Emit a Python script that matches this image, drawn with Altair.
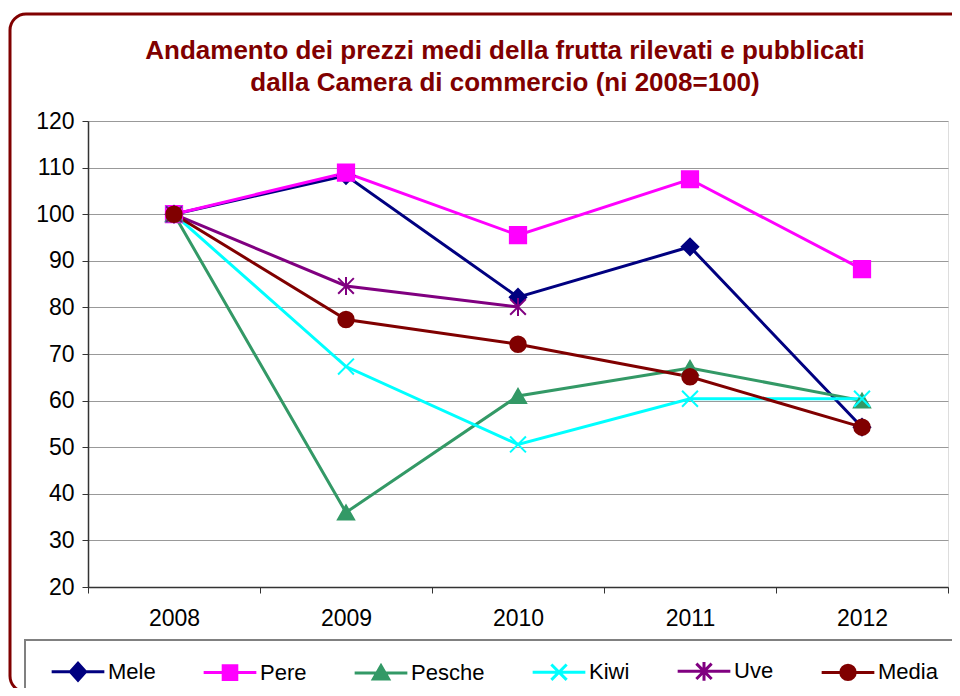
import altair as alt
import pandas as pd

years = ["2008", "2009", "2010", "2011", "2012"]
series = ["Mele", "Pere", "Pesche", "Kiwi", "Uve", "Media"]
colors = ["#000080", "#FF00FF", "#339966", "#00FFFF", "#800080", "#800000"]

mele = [100, 108.3, 82.2, 93.0, 54.3]
pere = [100, 108.9, 95.5, 107.5, 88.2]
pesche = [100, 36.0, 61.0, 67.0, 60.0]
kiwi = [100, 67.3, 50.6, 60.4, 60.4]
uve = [100, 84.6, 80.1, None, None]
media = [100, 77.4, 72.1, 65.1, 54.3]
values = [mele, pere, pesche, kiwi, uve, media]

title_lines = [
    "Andamento dei prezzi medi della frutta rilevati e pubblicati",
    "dalla Camera di commercio (ni 2008=100)",
]

# marker shapes (chart) and legend symbols (line + marker)
marker_paths = [
    "diamond",
    "square",
    "triangle-up",
    "M-1,-1L1,1M-1,1L1,-1",
    "M-1,-1L1,1M-1,1L1,-1M0,-1.15L0,1.15",
    "circle",
]
marker_sizes = [270, 240, 260, 340, 340, 280]
L = "M-3.1,0L3.1,0"
legend_paths = [
    L + "M0,-1L0.9,0L0,1L-0.9,0Z",
    L + "M-0.8,-0.8L0.8,-0.8L0.8,0.8L-0.8,0.8Z",
    L + "M0,-0.85L0.9,0.7L-0.9,0.7Z",
    L + "M-0.9,-0.9L0.9,0.9M-0.9,0.9L0.9,-0.9",
    L + "M-0.9,-0.9L0.9,0.9M-0.9,0.9L0.9,-0.9M0,-1.1L0,1.1",
    L + "M-0.85,0A0.85,0.85 0 1,0 0.85,0A0.85,0.85 0 1,0 -0.85,0Z",
]

rows = []
for s, vals in zip(series, values):
    for yr, v in zip(years, vals):
        if v is not None:
            rows.append({"series": s, "year": yr, "value": v})
df = pd.DataFrame(rows)

FONT = "Liberation Sans"

x_enc = alt.X(
    "year:N",
    scale=alt.Scale(type="band", domain=years, paddingInner=0, paddingOuter=0),
    axis=alt.Axis(
        title=None, labelAngle=0, grid=False, tickBand="extent", tickSize=6,
        tickColor="#333333", domainColor="#333333", domainWidth=1.5,
        labelFontSize=23, labelFont=FONT, labelColor="#000000", labelPadding=14,
    ),
)
y_enc = alt.Y(
    "value:Q",
    scale=alt.Scale(domain=[20, 120], nice=False, zero=False),
    axis=alt.Axis(
        title=None, values=list(range(20, 121, 10)), grid=True, gridColor="#999999",
        gridWidth=1.2, tickSize=6, tickColor="#333333", domainColor="#333333",
        domainWidth=1.5, labelFontSize=23, labelFont=FONT, labelColor="#000000",
        labelPadding=8,
    ),
)

deco_df = pd.DataFrame({"d": [0]})

outer_border = alt.Chart(deco_df).mark_rect(
    filled=False, color="#800000", strokeWidth=3, cornerRadius=16
).encode(
    x=alt.value(-78), x2=alt.value(880), y=alt.value(-107), y2=alt.value(571)
)

legend_box = alt.Chart(deco_df).mark_rect(
    filled=False, color="#808080", strokeWidth=2
).encode(
    x=alt.value(-63), x2=alt.value(1000), y=alt.value(519), y2=alt.value(700)
)

title_style = dict(font=FONT, fontSize=26, fontWeight="bold", color="#800000",
                   align="center", baseline="alphabetic")
title1 = alt.Chart(pd.DataFrame({"t": [title_lines[0]]})).mark_text(**title_style).encode(
    text="t:N", x=alt.value(417), y=alt.value(-62)
)
title2 = alt.Chart(pd.DataFrame({"t": [title_lines[1]]})).mark_text(**title_style).encode(
    text="t:N", x=alt.value(417), y=alt.value(-30)
)

lines = alt.Chart(df).mark_line(strokeWidth=3).encode(
    x=x_enc,
    y=y_enc,
    color=alt.Color("series:N", scale=alt.Scale(domain=series, range=colors), legend=None),
    detail="series:N",
)

points = alt.Chart(df).mark_point(filled=True, strokeWidth=2, opacity=1).encode(
    x=x_enc,
    y=y_enc,
    fill=alt.Fill("series:N", scale=alt.Scale(domain=series, range=colors), legend=None),
    stroke=alt.Stroke("series:N", scale=alt.Scale(domain=series, range=colors), legend=None),
    shape=alt.Shape("series:N", scale=alt.Scale(domain=series, range=marker_paths), legend=None),
    size=alt.Size("series:N", scale=alt.Scale(domain=series, range=marker_sizes), legend=None),
)

leg = alt.Legend(
    title=None, orient="none", legendX=-21, legendY=539, direction="horizontal",
    columns=6, columnPadding=41, labelFontSize=22, labelFont=FONT, labelColor="#000000",
    symbolSize=289, symbolStrokeWidth=3, labelOffset=19, padding=0,
)
legend_layer = alt.Chart(pd.DataFrame({"series": series})).transform_filter(
    "false"
).mark_point(filled=True, strokeWidth=3, opacity=1).encode(
    fill=alt.Fill("series:N", scale=alt.Scale(domain=series, range=colors), legend=leg),
    stroke=alt.Stroke("series:N", scale=alt.Scale(domain=series, range=colors), legend=leg),
    shape=alt.Shape("series:N", scale=alt.Scale(domain=series, range=legend_paths), legend=leg),
)

chart = alt.layer(
    outer_border, legend_box, title1, title2, lines, points, legend_layer
).resolve_scale(
    shape="independent", fill="independent", stroke="independent",
    size="independent", color="independent",
).properties(
    width=860,
    height=466,
    autosize=alt.AutoSizeParams(type="none"),
    padding={"left": 80, "top": 113, "right": 4, "bottom": 101},
).configure_view(stroke="#808080", strokeWidth=2).configure(background="white")

chart.save("out.html", embed_options={"renderer": "svg", "actions": False})
